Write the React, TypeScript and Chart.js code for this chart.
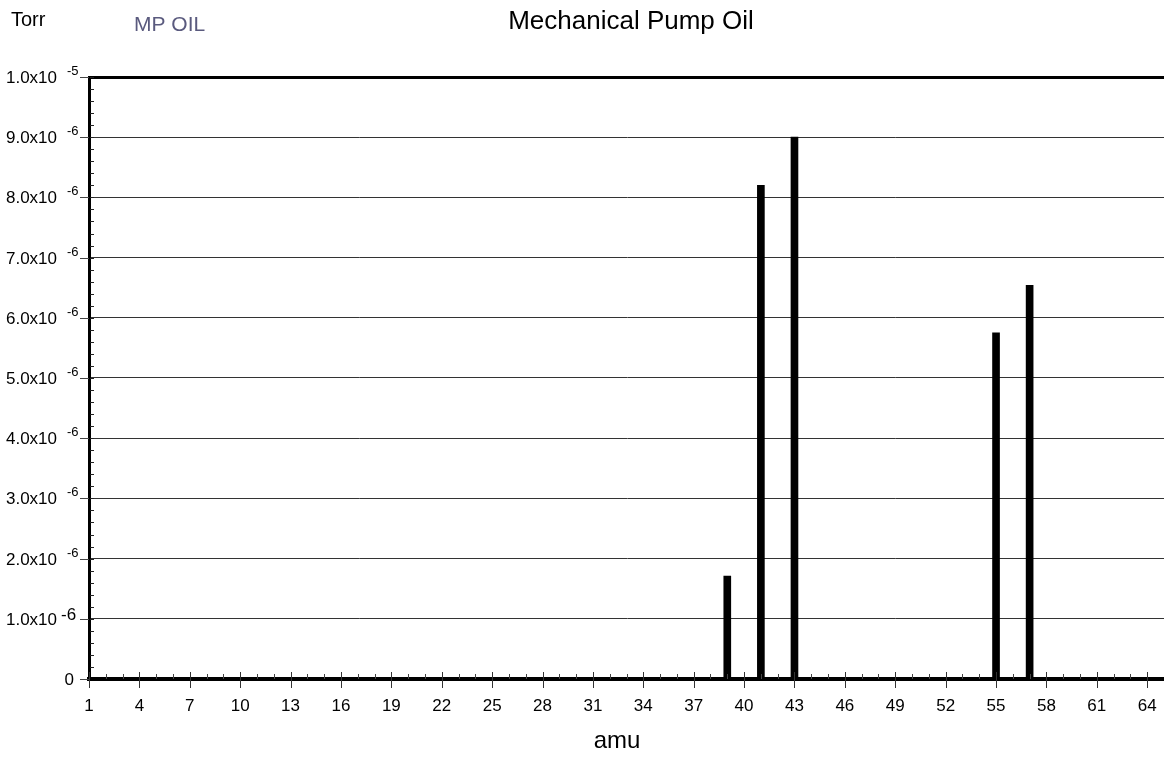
import React, { useEffect, useRef } from 'react';
import { Chart, registerables } from 'chart.js';

Chart.register(...registerables);

// ---- data ----
const peakMasses: number[] = [39, 41, 43, 55, 57];
const peakPressures: number[] = [1.71e-6, 8.2e-6, 9.0e-6, 5.75e-6, 6.54e-6];

const yTickValues: number[] = [0, 1e-6, 2e-6, 3e-6, 4e-6, 5e-6, 6e-6, 7e-6, 8e-6, 9e-6, 1e-5];
const yTickMantissas: string[] = ['0', '1.0', '2.0', '3.0', '4.0', '5.0', '6.0', '7.0', '8.0', '9.0', '1.0'];
const yTickExponents: string[] = ['', '-6', '-6', '-6', '-6', '-6', '-6', '-6', '-6', '-6', '-5'];

const xMin = 1;
const xMax = 65;
const xLabelEvery = 3;
const xLastLabel = 64;

const chartTitle = 'Mechanical Pump Oil';
const unitLabel = 'Torr';
const seriesName = 'MP OIL';
const xAxisTitle = 'amu';

const FONT = "'Liberation Sans', Arial, Helvetica, sans-serif";

const overlayPlugin = {
  id: 'overlay',
  afterDraw(chart: any) {
    const { ctx, chartArea, scales } = chart;
    const x = scales.x;
    const y = scales.y;
    const left = chartArea.left;
    const bottom = chartArea.bottom;
    ctx.save();

    // y minor ticks (inside)
    ctx.strokeStyle = '#222';
    ctx.lineWidth = 1;
    const yMaxVal = yTickValues[yTickValues.length - 1];
    const minorStep = (yTickValues[1] - yTickValues[0]) / 5;
    for (let v = minorStep; v < yMaxVal; v += minorStep) {
      const py = Math.round(y.getPixelForValue(v)) + 0.5;
      ctx.beginPath();
      ctx.moveTo(left + 1, py);
      ctx.lineTo(left + 5, py);
      ctx.stroke();
    }

    // y major dashes + labels
    yTickValues.forEach((v, i) => {
      const py = Math.round(y.getPixelForValue(v)) + 0.5;
      ctx.strokeStyle = '#444';
      ctx.lineWidth = 1;
      ctx.beginPath();
      ctx.moveTo(left - 9, py);
      ctx.lineTo(left, py);
      ctx.stroke();

      ctx.fillStyle = '#000';
      if (yTickExponents[i] === '') {
        ctx.font = `17px ${FONT}`;
        ctx.textAlign = 'right';
        ctx.textBaseline = 'middle';
        ctx.fillText(yTickMantissas[i], left - 15, py + 1);
        return;
      }
      ctx.font = `17px ${FONT}`;
      ctx.textAlign = 'right';
      ctx.textBaseline = 'middle';
      ctx.fillText(yTickMantissas[i] + 'x10', left - 32, py + 1);
      ctx.textAlign = 'left';
      ctx.textBaseline = 'alphabetic';
      if (i === 1) {
        ctx.font = `17px ${FONT}`;
        ctx.fillText(yTickExponents[i], left - 28, py);
      } else {
        ctx.font = `13px ${FONT}`;
        ctx.fillText(yTickExponents[i], left - 22, py - 3);
      }
    });

    // x ticks
    for (let v = xMin; v <= xMax; v++) {
      const px = Math.round(x.getPixelForValue(v)) + 0.5;
      ctx.beginPath();
      if ((v - xMin) % xLabelEvery === 0) {
        ctx.strokeStyle = '#333';
        ctx.moveTo(px, bottom - 7);
        ctx.lineTo(px, bottom + 9);
      } else {
        ctx.strokeStyle = '#444';
        ctx.moveTo(px, bottom - 5);
        ctx.lineTo(px, bottom);
      }
      ctx.stroke();
    }

    // texts
    ctx.fillStyle = '#000';
    ctx.textAlign = 'left';
    ctx.textBaseline = 'alphabetic';
    ctx.font = `20px ${FONT}`;
    ctx.fillText(unitLabel, 11, 26);
    ctx.fillStyle = '#5a5a7e';
    ctx.font = `21px ${FONT}`;
    ctx.fillText(seriesName, 134, 31);
    ctx.fillStyle = '#000';
    ctx.textAlign = 'center';
    ctx.font = `26px ${FONT}`;
    ctx.fillText(chartTitle, 631, 29);
    ctx.font = `24px ${FONT}`;
    ctx.fillText(xAxisTitle, 617, 748);

    ctx.restore();
  },
};

export default function App() {
  const canvasRef = useRef<HTMLCanvasElement | null>(null);

  useEffect(() => {
    if (!canvasRef.current) return;
    const yMaxVal = yTickValues[yTickValues.length - 1];
    const chart = new Chart(canvasRef.current, {
      type: 'bar',
      data: {
        datasets: [
          {
            label: seriesName,
            data: peakMasses.map((m, i) => ({ x: m, y: peakPressures[i] })),
            backgroundColor: '#000',
            borderWidth: 0,
            barThickness: 7,
          },
        ],
      },
      plugins: [overlayPlugin],
      options: {
        responsive: false,
        animation: false,
        events: [],
        layout: { autoPadding: false, padding: { top: 77, right: 0, left: 0, bottom: 0 } },
        plugins: { legend: { display: false }, tooltip: { enabled: false }, title: { display: false } },
        scales: {
          x: {
            type: 'linear',
            min: xMin,
            max: xMax,
            offset: false,
            afterFit: (scale: any) => {
              scale.height = 87;
              scale.paddingLeft = 0;
              scale.paddingRight = 0;
            },
            grid: { display: false, drawTicks: false },
            border: { display: true, color: '#000', width: 4 },
            ticks: {
              stepSize: 1,
              autoSkip: false,
              maxRotation: 0,
              minRotation: 0,
              maxTicksLimit: 200,
              padding: 17,
              color: '#000',
              font: { family: FONT, size: 17 },
              callback: (v: any) => {
                const n = Math.round(Number(v));
                return Math.abs(Number(v) - n) < 1e-6 && (n - xMin) % xLabelEvery === 0 && n <= xLastLabel ? String(n) : '';
              },
            },
          },
          y: {
            type: 'linear',
            min: 0,
            max: yMaxVal,
            afterFit: (scale: any) => {
              scale.width = 89;
              scale.paddingTop = 0;
              scale.paddingBottom = 0;
            },
            ticks: { display: false, stepSize: yTickValues[1] - yTickValues[0] },
            grid: {
              drawTicks: false,
              color: (c: any) => (Math.abs(c.tick.value - yMaxVal) < 1e-12 ? '#000' : '#333'),
              lineWidth: (c: any) => (Math.abs(c.tick.value - yMaxVal) < 1e-12 ? 3 : 1),
            },
            border: { display: true, color: '#000', width: 3 },
          },
        },
      },
    });
    return () => chart.destroy();
  }, []);

  return (
    <div style={{ position: 'fixed', left: 0, top: 0, width: 1164, height: 766, background: '#fff' }}>
      <canvas ref={canvasRef} width={1164} height={766} style={{ display: 'block' }} />
    </div>
  );
}
